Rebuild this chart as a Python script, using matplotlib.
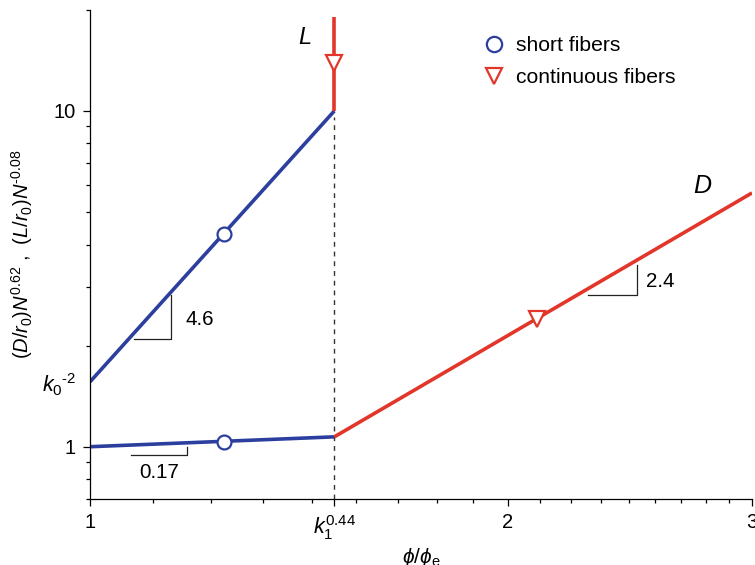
import matplotlib
matplotlib.use("Agg")
import matplotlib.pyplot as plt
from matplotlib.ticker import FixedLocator, FixedFormatter, NullFormatter

plt.rcParams['font.family'] = ['Liberation Sans', 'DejaVu Sans']
plt.rcParams['mathtext.fontset'] = 'custom'
plt.rcParams['mathtext.rm'] = 'Liberation Sans'
plt.rcParams['mathtext.it'] = 'Liberation Sans:italic'
plt.rcParams['mathtext.bf'] = 'Liberation Sans:bold'

# crossover positions
k1_pos = 1.5      # k1^0.44
k0_pos = 1.56     # k0^-2

# short fibers: L and D branches
phi_short = [1.0, 1.5]
L_short = [1.56, 10.0]
D_short = [1.0, 1.07]

# continuous fibers: L jumps up, D keeps growing
phi_L_cont = [1.5, 1.5]
L_cont = [10.0, 19.0]
phi_D_cont = [1.5, 3.0]
D_cont = [1.07, 5.7]

# marker points
phi_mark_short = [1.25, 1.25]
val_mark_short = [4.3, 1.035]
phi_mark_cont = [1.5, 2.1]
val_mark_cont = [13.9, 2.4]

# axis ticks
x_major = [1, k1_pos, 2, 3]
x_major_labels = ['1', r'$k_1^{0.44}$', '2', '3']
x_minor = [1 + i / 9 for i in range(1, 9)] + [2 + i / 9 for i in range(1, 9)]
y_major = [1, k0_pos, 10]
y_major_labels = ['1', r'$k_0{}^{\text{-}2}$', '10']
y_minor = [0.7, 0.8, 0.9, 2, 3, 4, 5, 6, 7, 8, 9, 20]

blue = '#2d3f9e'
red = '#e2362b'

fig = plt.figure(figsize=(7.55, 5.65), dpi=100)
ax = fig.add_axes([0.1192, 0.1173, 0.8768, 0.8652])
ax.set_xscale('log')
ax.set_yscale('log')
ax.set_xlim(1, 3)
ax.set_ylim(0.7, 20)

# dashed guide at the crossover
ax.plot([k1_pos, k1_pos], [0.7, L_short[1] * 0.96], ls=(0, (3.5, 3.5)),
        color='#333333', lw=1.0, zorder=1)

ax.plot(phi_short, L_short, color=blue, lw=2.6, solid_capstyle='butt', zorder=2)
ax.plot(phi_short, D_short, color=blue, lw=2.6, solid_capstyle='butt', zorder=2)
ax.plot(phi_L_cont, L_cont, color=red, lw=2.6, solid_capstyle='butt', zorder=2)
ax.plot(phi_D_cont, D_cont, color=red, lw=2.6, solid_capstyle='butt', zorder=2)

ax.plot(phi_mark_short, val_mark_short, ls='none', marker='o', ms=10,
        mfc='white', mec=blue, mew=1.6, zorder=3, label='short fibers')
ax.plot(phi_mark_cont, val_mark_cont, ls='none', marker='v', ms=11,
        mfc='white', mec=red, mew=1.6, zorder=3, label='continuous fibers')

# slope guides
guide_kw = dict(color='#222222', lw=0.9, zorder=1)
ax.plot([1.075, 1.143, 1.143], [2.09, 2.09, 2.83], **guide_kw)
ax.text(1.171, 2.385, '4.6', fontsize=14.8, ha='left', va='center')
ax.plot([1.070, 1.175, 1.175], [0.947, 0.947, 0.995], **guide_kw)
ax.text(1.121, 0.837, '0.17', fontsize=14.8, ha='center', va='center')
ax.plot([2.287, 2.477, 2.477], [2.83, 2.83, 3.48], **guide_kw)
ax.text(2.518, 3.115, '2.4', fontsize=14.8, ha='left', va='center')

# curve names
ax.text(1.429, 16.5, '$L$', fontsize=17, ha='center', va='center')
ax.text(2.766, 5.98, '$D$', fontsize=18, ha='center', va='center')

ax.xaxis.set_major_locator(FixedLocator(x_major))
ax.xaxis.set_major_formatter(FixedFormatter(x_major_labels))
ax.xaxis.set_minor_locator(FixedLocator(x_minor))
ax.xaxis.set_minor_formatter(NullFormatter())
ax.yaxis.set_major_locator(FixedLocator(y_major))
ax.yaxis.set_major_formatter(FixedFormatter(y_major_labels))
ax.yaxis.set_minor_locator(FixedLocator(y_minor))
ax.yaxis.set_minor_formatter(NullFormatter())

ax.tick_params(which='major', direction='out', length=5, width=0.9,
               labelsize=14.5, pad=5)
ax.tick_params(which='minor', direction='out', length=3, width=0.9)
for tk, v in zip(ax.yaxis.get_major_ticks(), y_major):
    if v == k0_pos:
        tk.tick1line.set_visible(False)
        tk.label1.set_fontsize(15.5)
for tk, v in zip(ax.xaxis.get_major_ticks(), x_major):
    if v == k1_pos:
        tk.label1.set_fontsize(15.5)

for s in ['top', 'right']:
    ax.spines[s].set_visible(False)
for s in ['left', 'bottom']:
    ax.spines[s].set_linewidth(0.9)

ax.set_ylabel(r'$(D/r_0)N^{0.62}$ ,  $(L/r_0)N^{\text{-}0.08}$', fontsize=14.5)
ax.yaxis.set_label_coords(-0.083, 0.5)
ax.set_xlabel(r'$\phi/\phi_{\mathrm{e}}$', fontsize=15)
ax.xaxis.set_label_coords(0.5, -0.097)

ax.legend(loc='upper left', bbox_to_anchor=(0.595, 0.946), frameon=False,
          fontsize=15.2, handlelength=1.0, handletextpad=0.52,
          borderpad=0, borderaxespad=0, labelspacing=0.6, numpoints=1,
          markerscale=1.1)

fig.savefig('out.png', dpi=100)
